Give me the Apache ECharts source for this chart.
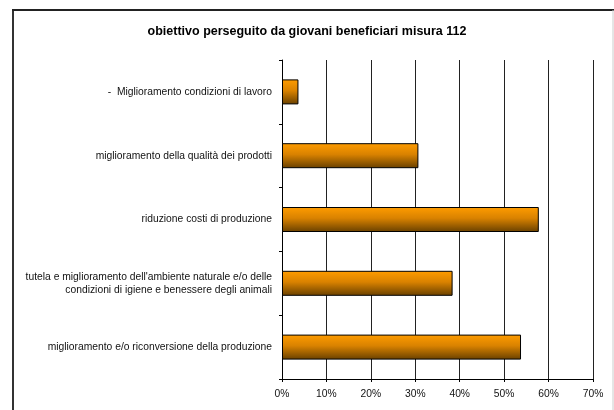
<!DOCTYPE html>
<html>
<head>
<meta charset="utf-8">
<script src="https://cdn.jsdelivr.net/npm/echarts@6/dist/echarts.min.js"></script>
<style>
    html, body { margin: 0; padding: 0; background: #fff; }
    #chart { width: 614px; height: 410px; }
</style>
</head>
<body>
<div id="chart"></div>
<script>
    // categories top to bottom
    var categories = [
        '-  Miglioramento condizioni di lavoro',
        'miglioramento della qualità dei prodotti',
        'riduzione costi di produzione',
        "tutela e miglioramento dell'ambiente naturale e/o delle\ncondizioni di igiene e benessere degli animali",
        'miglioramento e/o riconversione della produzione'
    ];
    var values = [3.7, 30.7, 57.8, 38.4, 53.8];
    var xTicks = [0, 10, 20, 30, 40, 50, 60, 70];

    var chart = echarts.init(document.getElementById('chart'));
    var option = {
        animation: false,
        backgroundColor: '#fff',
        textStyle: { fontFamily: 'Liberation Sans, Arial, sans-serif' },
        title: {
            text: 'obiettivo perseguito da giovani beneficiari misura 112',
            left: 'center',
            top: 20,
            textStyle: { fontSize: 12.5, fontWeight: 'bold', color: '#000', fontFamily: 'Liberation Sans, Arial, sans-serif' }
        },
        graphic: [
            { type: 'line', shape: { x1: 13, y1: 10, x2: 13, y2: 420 }, style: { stroke: '#333', lineWidth: 2 } },
            { type: 'line', shape: { x1: 12, y1: 10, x2: 614, y2: 10 }, style: { stroke: '#222', lineWidth: 2 } },
            { type: 'line', shape: { x1: 613, y1: 10, x2: 613, y2: 420 }, style: { stroke: '#ccc', lineWidth: 1 } }
        ],
        grid: { left: 282, right: 21, top: 60, bottom: 31 },
        xAxis: {
            type: 'value',
            min: xTicks[0],
            max: xTicks[xTicks.length - 1],
            interval: 10,
            axisLine: { show: true, lineStyle: { color: '#000', width: 1 } },
            axisTick: { show: true, length: 3, lineStyle: { color: '#000' } },
            axisLabel: { formatter: '{value}%', fontSize: 10.3, color: '#111', margin: 10 },
            splitLine: { show: true, lineStyle: { color: '#222', width: 1 } }
        },
        yAxis: {
            type: 'category',
            inverse: true,
            data: categories,
            axisLine: { show: true, lineStyle: { color: '#000', width: 1 } },
            axisTick: { show: true, length: 3, lineStyle: { color: '#000' } },
            axisLabel: { fontSize: 10.3, color: '#111', margin: 10, lineHeight: 13, align: 'right' },
            splitLine: { show: false }
        },
        series: [{
            type: 'bar',
            data: values,
            barWidth: 25,
            itemStyle: {
                borderColor: '#000',
                borderWidth: 1,
                color: new echarts.graphic.LinearGradient(0, 0, 0, 1, [
                    { offset: 0, color: '#ff9c00' },
                    { offset: 0.45, color: '#d98200' },
                    { offset: 1, color: '#684000' }
                ])
            }
        }]
    };
    chart.setOption(option);
</script>
</body>
</html>
